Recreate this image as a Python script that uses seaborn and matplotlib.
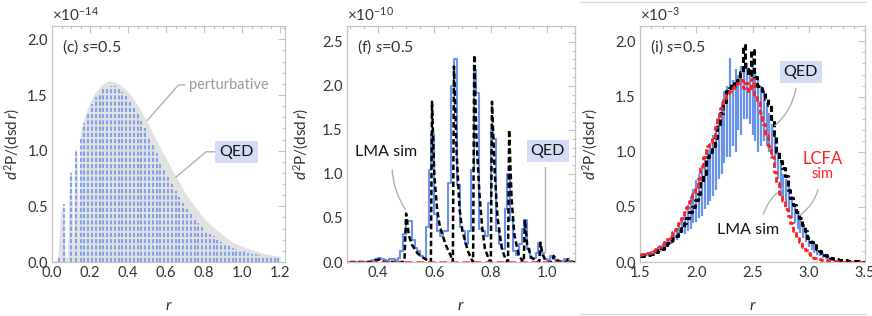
import numpy as np
import pandas as pd
import matplotlib
matplotlib.use("Agg")
import matplotlib.pyplot as plt
import seaborn as sns
from matplotlib.ticker import MultipleLocator, AutoMinorLocator
from matplotlib.lines import Line2D

# ---------------- data: panel (c) ----------------
pert_c_r = [0.0, 0.03, 0.045, 0.058, 0.07, 0.082, 0.092, 0.102, 0.112, 0.12, 0.13, 0.14, 0.15,
            0.17, 0.2, 0.225, 0.25, 0.275, 0.3, 0.325, 0.35, 0.4, 0.45, 0.5, 0.55, 0.6, 0.65,
            0.7, 0.75, 0.8, 0.85, 0.9, 0.95, 1.0, 1.05, 1.1, 1.15, 1.2]
pert_c_y = [0.0, 0.02, 0.45, 0.52, 0.04, 0.05, 0.80, 0.82, 0.10, 1.00, 1.02, 0.40, 1.17,
            1.30, 1.44, 1.52, 1.57, 1.61, 1.63, 1.62, 1.60, 1.53, 1.41, 1.26, 1.09, 0.93, 0.77,
            0.62, 0.50, 0.39, 0.31, 0.24, 0.18, 0.14, 0.11, 0.085, 0.065, 0.05]

qed_c_r = [0.035, 0.065, 0.098, 0.125, 0.15, 0.17, 0.19, 0.21, 0.23, 0.25, 0.27, 0.29, 0.31,
           0.33, 0.35, 0.37, 0.39, 0.41, 0.43, 0.45, 0.47, 0.49, 0.51, 0.53, 0.55, 0.57,
           0.59, 0.61, 0.63, 0.65, 0.67, 0.69, 0.71, 0.73, 0.75, 0.77, 0.79, 0.81, 0.83,
           0.85, 0.87, 0.89, 0.91, 0.93, 0.95, 0.97, 0.99, 1.01, 1.03, 1.05, 1.07, 1.09,
           1.11, 1.13, 1.15, 1.17, 1.19]
qed_c_y = [0.05, 0.52, 0.80, 1.00, 1.12, 1.25, 1.35, 1.42, 1.48, 1.52, 1.55, 1.57, 1.58,
           1.58, 1.56, 1.53, 1.49, 1.44, 1.38, 1.33, 1.27, 1.20, 1.12, 1.05, 0.98, 0.90,
           0.83, 0.76, 0.70, 0.64, 0.58, 0.53, 0.48, 0.43, 0.39, 0.35, 0.31, 0.28, 0.25,
           0.23, 0.20, 0.18, 0.16, 0.145, 0.13, 0.115, 0.105, 0.095, 0.085, 0.075, 0.068, 0.06,
           0.054, 0.048, 0.043, 0.038, 0.034]

# ---------------- data: panel (f) ----------------
qed_f_r = [0.305, 0.315, 0.325, 0.335, 0.345, 0.355, 0.365, 0.375, 0.385, 0.395,
           0.405, 0.415, 0.425, 0.435, 0.445, 0.455, 0.465, 0.475, 0.485, 0.495,
           0.505, 0.515, 0.525, 0.535, 0.545, 0.555, 0.565, 0.575, 0.585, 0.595,
           0.605, 0.615, 0.625, 0.635, 0.645, 0.655, 0.665, 0.675, 0.685, 0.695,
           0.705, 0.715, 0.725, 0.735, 0.745, 0.755, 0.765, 0.775, 0.785, 0.795,
           0.805, 0.815, 0.825, 0.835, 0.845, 0.855, 0.865, 0.875, 0.885, 0.895,
           0.905, 0.915, 0.925, 0.935, 0.945, 0.955, 0.965, 0.975, 0.985, 0.995,
           1.005, 1.015, 1.025, 1.035, 1.045, 1.055, 1.065, 1.075, 1.085, 1.095]
qed_f_y = [0.0, 0.0, 0.0, 0.0, 0.0, 0.0, 0.0, 0.01, 0.02, 0.03,
           0.04, 0.03, 0.02, 0.01, 0.03, 0.03, 0.02, 0.05, 0.12, 0.32,
           0.47, 0.46, 0.25, 0.16, 0.12, 0.07, 0.05, 0.40, 1.05, 1.45,
           0.55, 0.35, 0.30, 0.35, 0.35, 0.90, 2.00, 2.30, 0.88, 0.40,
           0.35, 0.20, 0.35, 1.05, 2.18, 1.92, 0.38, 0.35, 0.30, 0.67,
           1.50, 1.40, 0.35, 0.20, 0.15, 0.60, 1.00, 0.48, 0.12, 0.08,
           0.20, 0.38, 0.48, 0.15, 0.05, 0.05, 0.10, 0.22, 0.10, 0.03,
           0.02, 0.07, 0.06, 0.02, 0.01, 0.01, 0.03, 0.03, 0.01, 0.0]

lma_f_r = [0.30, 0.38, 0.39, 0.41, 0.42, 0.494, 0.50, 0.51, 0.52, 0.54, 0.56, 0.58, 0.588,
           0.592, 0.60, 0.61, 0.62, 0.64, 0.66, 0.666, 0.670, 0.68, 0.69, 0.70, 0.72, 0.734,
           0.738, 0.742, 0.75, 0.76, 0.77, 0.78, 0.795, 0.801, 0.805, 0.815, 0.825, 0.84,
           0.855, 0.862, 0.866, 0.875, 0.885, 0.90, 0.915, 0.918, 0.922, 0.93, 0.945, 0.97,
           0.973, 0.977, 0.985, 1.00, 1.02, 1.024, 1.035, 1.05, 1.07, 1.074, 1.085, 1.10]
lma_f_y = [0.0, 0.0, 0.02, 0.03, 0.0, 0.0, 0.55, 0.30, 0.20, 0.10, 0.05, 0.01, 0.0,
           1.82, 1.00, 0.60, 0.40, 0.20, 0.06, 0.0, 2.22, 1.20, 0.60, 0.35, 0.12, 0.02,
           0.0, 2.35, 1.40, 0.80, 0.40, 0.15, 0.02, 0.0, 1.82, 1.00, 0.50, 0.15,
           0.02, 0.0, 1.50, 0.70, 0.30, 0.08, 0.0, 0.0, 0.48, 0.20, 0.05, 0.0,
           0.0, 0.22, 0.08, 0.0, 0.0, 0.07, 0.02, 0.0, 0.0, 0.03, 0.0, 0.0]

lcfa_f_r = [0.29, 1.10]
lcfa_f_y = [0.0, 0.0]

# ---------------- data: panel (i) ----------------
qed_i_r = [1.500, 1.525, 1.550, 1.575, 1.600, 1.625, 1.650, 1.675, 1.700, 1.725, 1.750,
           1.775, 1.800, 1.825, 1.850, 1.875, 1.900, 1.925, 1.950, 1.975, 2.000, 2.025,
           2.050, 2.075, 2.100, 2.125, 2.150, 2.175, 2.200, 2.225, 2.250, 2.275, 2.300,
           2.325, 2.350, 2.375, 2.400, 2.425, 2.450, 2.475, 2.500, 2.525, 2.550, 2.575,
           2.600, 2.625, 2.650, 2.675, 2.700, 2.725, 2.750, 2.775, 2.800, 2.825, 2.850,
           2.875, 2.900, 2.925, 2.950, 2.975, 3.000, 3.025, 3.050, 3.075, 3.100, 3.125,
           3.150, 3.175, 3.200]
qed_i_lo = [0.04, 0.04, 0.05, 0.05, 0.06, 0.07, 0.08, 0.09, 0.10, 0.12, 0.14,
            0.16, 0.18, 0.20, 0.23, 0.26, 0.25, 0.28, 0.30, 0.35, 0.36, 0.40,
            0.42, 0.48, 0.52, 0.55, 0.60, 0.65, 0.75, 0.80, 0.90, 0.95, 0.95,
            1.05, 1.00, 1.20, 1.15, 1.30, 1.30, 1.25, 1.15, 1.10, 1.00, 1.05,
            1.10, 1.05, 1.00, 0.95, 0.90, 0.75, 0.60, 0.55, 0.50, 0.45, 0.40,
            0.35, 0.30, 0.26, 0.22, 0.18, 0.14, 0.11, 0.08, 0.06, 0.05, 0.04,
            0.03, 0.02, 0.01]
qed_i_hi = [0.07, 0.07, 0.08, 0.09, 0.10, 0.11, 0.13, 0.15, 0.17, 0.19, 0.21,
            0.24, 0.27, 0.31, 0.35, 0.40, 0.45, 0.52, 0.60, 0.66, 0.74, 0.80,
            0.88, 0.95, 1.02, 1.08, 1.15, 1.22, 1.35, 1.45, 1.55, 1.60, 1.85,
            1.65, 1.75, 1.70, 1.78, 1.72, 1.80, 1.75, 1.85, 1.72, 1.65, 1.60,
            1.55, 1.45, 1.35, 1.25, 1.15, 1.00, 0.90, 0.80, 0.75, 0.68, 0.60,
            0.52, 0.45, 0.40, 0.34, 0.29, 0.24, 0.20, 0.16, 0.13, 0.10, 0.08,
            0.06, 0.05, 0.04]

lma_i_r = [1.500, 1.525, 1.550, 1.575, 1.600, 1.625, 1.650, 1.675, 1.700, 1.725, 1.750,
           1.775, 1.800, 1.825, 1.850, 1.875, 1.900, 1.925, 1.950, 1.975, 2.000, 2.025,
           2.050, 2.075, 2.100, 2.125, 2.150, 2.175, 2.200, 2.225, 2.250, 2.275, 2.300,
           2.325, 2.350, 2.375, 2.400, 2.425, 2.450, 2.475, 2.500, 2.525, 2.550, 2.575,
           2.600, 2.625, 2.650, 2.675, 2.700, 2.725, 2.750, 2.775, 2.800, 2.825, 2.850,
           2.875, 2.900, 2.925, 2.950, 2.975, 3.000, 3.025, 3.050, 3.075, 3.100, 3.125,
           3.150, 3.175, 3.200, 3.225, 3.250, 3.275, 3.300, 3.325, 3.350, 3.375, 3.400,
           3.425, 3.450, 3.475, 3.500]
lma_i_y = [0.05, 0.05, 0.06, 0.06, 0.07, 0.08, 0.09, 0.11, 0.12, 0.15, 0.17,
           0.19, 0.22, 0.24, 0.28, 0.31, 0.35, 0.40, 0.45, 0.50, 0.56, 0.62,
           0.72, 0.80, 0.95, 1.00, 1.05, 1.12, 1.25, 1.35, 1.45, 1.55, 1.58,
           1.62, 1.60, 1.65, 1.72, 1.97, 1.75, 1.70, 1.92, 1.68, 1.60, 1.58,
           1.55, 1.48, 1.42, 1.30, 1.15, 1.00, 0.92, 0.85, 0.78, 0.65, 0.58,
           0.52, 0.45, 0.40, 0.34, 0.28, 0.22, 0.18, 0.15, 0.12, 0.10, 0.08,
           0.06, 0.05, 0.04, 0.03, 0.03, 0.02, 0.02, 0.02, 0.01, 0.01, 0.01,
           0.005, 0.005, 0.0, 0.0]
lcfa_i_y = [0.06, 0.07, 0.07, 0.08, 0.08, 0.10, 0.12, 0.14, 0.16, 0.18, 0.21,
            0.24, 0.27, 0.30, 0.35, 0.40, 0.45, 0.50, 0.55, 0.62, 0.66, 0.75,
            0.85, 0.95, 1.05, 1.08, 1.12, 1.22, 1.32, 1.40, 1.47, 1.52, 1.55,
            1.58, 1.60, 1.62, 1.65, 1.58, 1.62, 1.55, 1.66, 1.50, 1.45, 1.35,
            1.25, 1.15, 1.05, 0.95, 0.82, 0.72, 0.62, 0.55, 0.48, 0.42, 0.35,
            0.28, 0.22, 0.18, 0.14, 0.11, 0.08, 0.06, 0.04, 0.03, 0.03, 0.02,
            0.02, 0.01, 0.01, 0.01, 0.005, 0.0, 0.0, 0.0, 0.0, 0.0, 0.0,
            0.0, 0.0, 0.0, 0.0]

x_ticks_c = [0.0, 0.2, 0.4, 0.6, 0.8, 1.0, 1.2]
x_ticks_f = [0.4, 0.6, 0.8, 1.0]
x_ticks_i = [1.5, 2.0, 2.5, 3.0, 3.5]

# ---------------- style ----------------
sns.set_theme(style="white")
plt.rcParams["font.family"] = ["Lato", "DejaVu Sans"]
plt.rcParams["mathtext.fontset"] = "custom"
plt.rcParams["mathtext.rm"] = "Lato"
plt.rcParams["mathtext.it"] = "Lato:italic"
plt.rcParams["mathtext.sf"] = "Lato"

FRAME = "#c4c4c4"
TXT = "#333333"
BLUE = "#6a93ea"
GRAYFILL = "#e2e2e2"

fig = plt.figure(figsize=(8.72, 3.16), dpi=100)
W, H = 872, 316
def add_ax(left, right, top, bottom):
    return fig.add_axes([left / W, 1 - bottom / H, (right - left) / W, (bottom - top) / H])

ax_c = add_ax(52, 285, 26, 262)
ax_f = add_ax(347, 575, 26, 262)
ax_i = add_ax(640, 865, 26, 262)

def style_axes(ax, xticks, ymaj, xminor, xlim, ylim, lab_x, mult):
    ax.set_xlim(*xlim)
    ax.set_ylim(*ylim)
    ax.set_xticks(xticks)
    ax.set_xticklabels([f"{t:.1f}" for t in xticks])
    ax.yaxis.set_major_locator(MultipleLocator(ymaj))
    ax.yaxis.set_major_formatter(matplotlib.ticker.FormatStrFormatter("%.1f"))
    ax.xaxis.set_minor_locator(AutoMinorLocator(xminor))
    ax.yaxis.set_minor_locator(AutoMinorLocator(5))
    ax.tick_params(which="both", direction="in", top=True, right=True,
                   color=FRAME, labelcolor=TXT, labelsize=10.5, width=0.8)
    ax.tick_params(which="major", length=5, pad=3)
    ax.tick_params(which="minor", length=2.5)
    for s in ax.spines.values():
        s.set_color(FRAME)
        s.set_linewidth(0.9)
    ax.set_xlabel(r"$r$", fontsize=11.5, color=TXT)
    ax.xaxis.set_label_coords(0.5, -0.155)
    ax.set_ylabel(r"$d^2\mathrm{P}/(\mathrm{dsd}\,r)$", fontsize=11, color=TXT)
    ax.yaxis.set_label_coords(lab_x, 0.5)
    ax.text(0.0, 1.048, r"$\times 10^{" + mult + "}$", transform=ax.transAxes,
            fontsize=11, color=TXT, ha="left", va="center")

# ---------------- panel (c) ----------------
ax_c.fill_between(pert_c_r, 0, pert_c_y, color=GRAYFILL, lw=0, zorder=1)
ax_c.vlines(qed_c_r, 0, qed_c_y, colors=BLUE, linewidth=1.5, linestyles=(0, (2.0, 1.0)),
            alpha=0.8, zorder=2)
style_axes(ax_c, x_ticks_c, 0.5, 4, (0, 1.225), (0, 2.12), -0.128, "-14")
ax_c.text(0.043, 0.911, r"(c) $s$=0.5", transform=ax_c.transAxes, fontsize=11.5,
          color=TXT, va="center")
ax_c.text(0.72, 1.59, "perturbative", fontsize=10.5, color="#9a9a9a", va="center")
ax_c.plot([0.70, 0.665, 0.50], [1.59, 1.59, 1.27], color="#b0b0b0", lw=1)
ax_c.text(0.88, 0.99, "QED", fontsize=11.5, color="#111111", va="center",
          bbox=dict(boxstyle="square,pad=0.25", fc="#d4dcf6", ec="none"))
ax_c.plot([0.86, 0.81, 0.65], [0.99, 0.99, 0.76], color="#b0b0b0", lw=1)

# ---------------- panel (f) ----------------
sns.lineplot(x=qed_f_r, y=qed_f_y, ax=ax_f, color=BLUE, lw=1.5, drawstyle="steps-mid",
             zorder=2, estimator=None)
sns.lineplot(x=lma_f_r, y=lma_f_y, ax=ax_f, color="black", lw=1.8,
             linestyle=(0, (2.2, 1.2)), zorder=3, estimator=None)
sns.lineplot(x=lcfa_f_r, y=lcfa_f_y, ax=ax_f, color="#ff2a2a", lw=1.8,
             linestyle=(0, (3, 1.6)), zorder=4, estimator=None)
style_axes(ax_f, x_ticks_f, 0.5, 4, (0.29, 1.10), (0, 2.68), -0.158, "-10")
ax_f.text(0.043, 0.911, r"(f) $s$=0.5", transform=ax_f.transAxes, fontsize=11.5,
          color=TXT, va="center")
ax_f.text(0.318, 1.25, "LMA sim", fontsize=11.5, color="#111111", va="center")
ax_f.annotate("", xy=(0.503, 0.57), xytext=(0.45, 1.08),
              arrowprops=dict(arrowstyle="-", color="#b0b0b0", lw=1,
                              connectionstyle="arc3,rad=0.15"))
ax_f.text(1.003, 1.26, "QED", fontsize=11.5, color="#111111", va="center", ha="center",
          bbox=dict(boxstyle="square,pad=0.25", fc="#d4dcf6", ec="none"))
ax_f.plot([0.995, 0.995], [1.08, 0.11], color="#b0b0b0", lw=1)

# ---------------- panel (i) ----------------
ax_i.vlines(qed_i_r, qed_i_lo, qed_i_hi, colors=BLUE, linewidth=1.6, zorder=2)
sns.lineplot(x=lma_i_r, y=lma_i_y, ax=ax_i, color="black", lw=2.2,
             linestyle=(0, (2.0, 1.0)), drawstyle="steps-mid", zorder=3, estimator=None)
sns.lineplot(x=lma_i_r, y=lcfa_i_y, ax=ax_i, color="#ff2020", lw=2.0,
             linestyle=(0, (2.0, 1.0)), drawstyle="steps-mid", zorder=4, estimator=None)
style_axes(ax_i, x_ticks_i, 0.5, 5, (1.5, 3.5), (0, 2.14), -0.178, "-3")
ax_i.text(0.043, 0.911, r"(i) $s$=0.5", transform=ax_i.transAxes, fontsize=11.5,
          color=TXT, va="center")
ax_i.text(2.93, 1.72, "QED", fontsize=11.5, color="#111111", va="center", ha="center",
          bbox=dict(boxstyle="square,pad=0.25", fc="#d4dcf6", ec="none"))
ax_i.annotate("", xy=(2.68, 1.22), xytext=(2.89, 1.60),
              arrowprops=dict(arrowstyle="-", color="#b0b0b0", lw=1,
                              connectionstyle="arc3,rad=-0.2"))
ax_i.text(3.12, 0.93, "LCFA", fontsize=12, color="#ff2020", va="center", ha="center")
ax_i.text(3.12, 0.80, "sim", fontsize=10.5, color="#ff2020", va="center", ha="center")
ax_i.annotate("", xy=(2.90, 0.41), xytext=(3.09, 0.68),
              arrowprops=dict(arrowstyle="-", color="#b0b0b0", lw=1,
                              connectionstyle="arc3,rad=-0.2"))
ax_i.text(2.46, 0.29, "LMA sim", fontsize=11.5, color="#111111", va="center", ha="center")
ax_i.annotate("", xy=(2.79, 0.68), xytext=(2.59, 0.41),
              arrowprops=dict(arrowstyle="-", color="#b0b0b0", lw=1,
                              connectionstyle="arc3,rad=-0.2"))

for ax in (ax_c, ax_f, ax_i):
    if ax.get_legend() is not None:
        ax.get_legend().remove()

# light frame lines around right panel region
fig.add_artist(Line2D([580 / W, 866 / W], [1 - 2 / H, 1 - 2 / H], color="#dcdcdc", lw=1))
fig.add_artist(Line2D([580 / W, 866 / W], [1 - 314 / H, 1 - 314 / H], color="#dcdcdc", lw=1))

fig.savefig("out.png", dpi=100)
